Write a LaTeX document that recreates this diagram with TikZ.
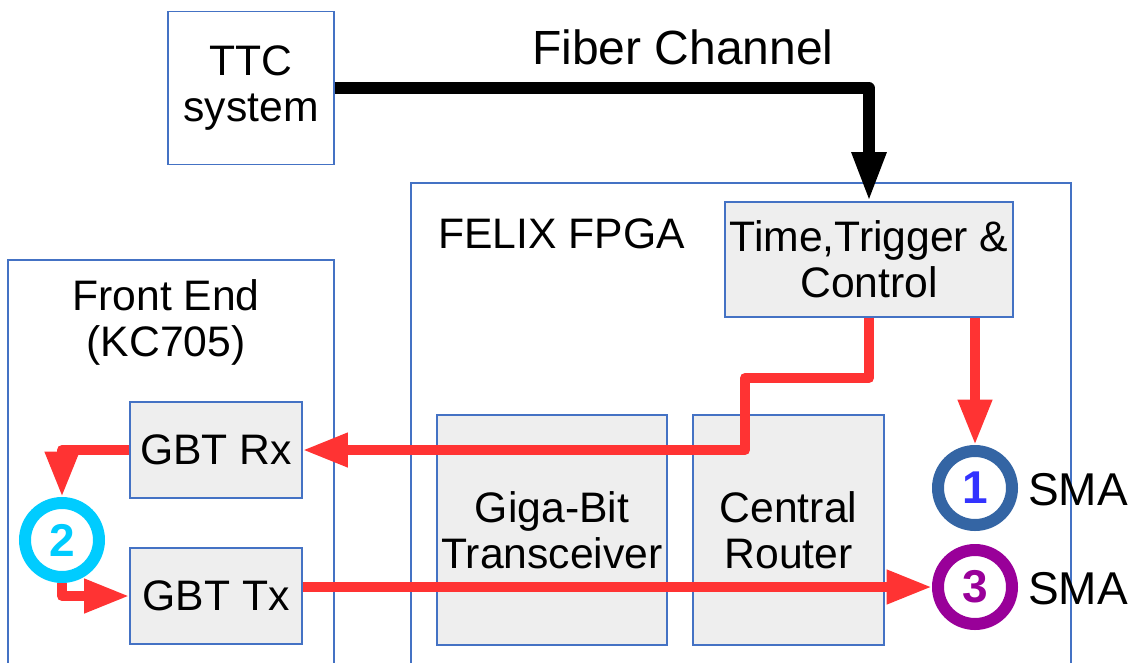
\documentclass[tikz,border=0pt]{standalone}
\usepackage{fontspec}
\setmainfont{Liberation Sans}
\usetikzlibrary{arrows.meta}
\definecolor{edgeblue}{HTML}{4472C4}
\definecolor{boxgray}{HTML}{EEEEEE}
\definecolor{linkred}{HTML}{FF3333}
\definecolor{smaone}{HTML}{3465A4}
\definecolor{digitone}{HTML}{3333FF}
\definecolor{smatwo}{HTML}{00CCFF}
\definecolor{smathree}{HTML}{990099}
\tikzset{
  txt/.style={font=\fontsize{32}{34.5}\selectfont, align=center, inner sep=0pt},
  frame/.style={draw=edgeblue, line width=0.8pt, inner sep=0pt},
  block/.style={frame, fill=boxgray, txt},
  sma/.style={circle, draw=#1, line width=9pt, fill=white, minimum size=55.5pt, inner sep=0pt,
    text=#1, font=\fontsize{34.5}{34.5}\selectfont\bfseries},
  redlink/.style={draw=linkred, line width=7.5pt, line join=round,
    -{Triangle[length=34pt,width=24pt]}},
  fiber/.style={draw=black, line width=8.5pt, line join=round,
    -{Triangle[length=37pt,width=24pt]}},
}
\begin{document}
\begin{tikzpicture}[x=0.75pt,y=-0.75pt]
\useasboundingbox (0,0) rectangle (1131,662);

% enclosing frames
\node[frame, minimum width=495pt, minimum height=365.25pt] (felix) at (741,426.5) {};
\node[frame, minimum width=244.5pt, minimum height=307.5pt] (fe) at (171,465) {};
\node[frame, minimum width=124.5pt, minimum height=114.75pt, txt] (ttc) at (251,88) {TTC\\system};

% frame titles
\node[txt, anchor=base west] (felixlbl) at (438,248) {FELIX FPGA};
\node[txt] (felbl) at (166,322) {Front End\\(KC705)};
\node[txt, font=\fontsize{36}{36}\selectfont] (fiberlbl) at (683,47) {Fiber Channel};

% blocks
\node[block, minimum width=216pt, minimum height=86.25pt] (ttcc) at (869,259.5) {Time,Trigger \&\\Control};
\node[block, minimum width=172.5pt, minimum height=172.5pt] (gbt) at (552,530) {Giga-Bit\\Transceiver};
\node[block, minimum width=143.25pt, minimum height=172.5pt] (cr) at (788.5,530) {Central\\Router};
\node[block, minimum width=129pt, minimum height=72pt] (rx) at (216,450) {GBT Rx};
\node[block, minimum width=129pt, minimum height=72pt] (tx) at (216,596) {GBT Tx};

% SMA connectors
\node[sma=smaone, text=digitone] (c1) at (975,488) {1};
\node[sma=smatwo] (c2) at (62,540) {2};
\node[sma=smathree] (c3) at (975,587) {3};
\node[txt, font=\fontsize{34.5}{34.5}\selectfont, anchor=west] (sma1) at (1028,490) {SMA};
\node[txt, font=\fontsize{34.5}{34.5}\selectfont, anchor=west] (sma3) at (1028,589) {SMA};

% links
\draw[fiber] (ttc.east) -| (ttcc.north);
\coordinate (jog) at (745,378);
\draw[redlink] (ttcc.south) |- (jog) |- (rx.east);
\draw[redlink] (ttcc.south -| c1) -- (c1.north);
\draw[redlink] (rx.west) -| (c2.north);
\draw[redlink] (c2.south) |- (tx.west);
\draw[redlink] (tx.east |- c3) -- (c3.west);
\end{tikzpicture}
\end{document}
